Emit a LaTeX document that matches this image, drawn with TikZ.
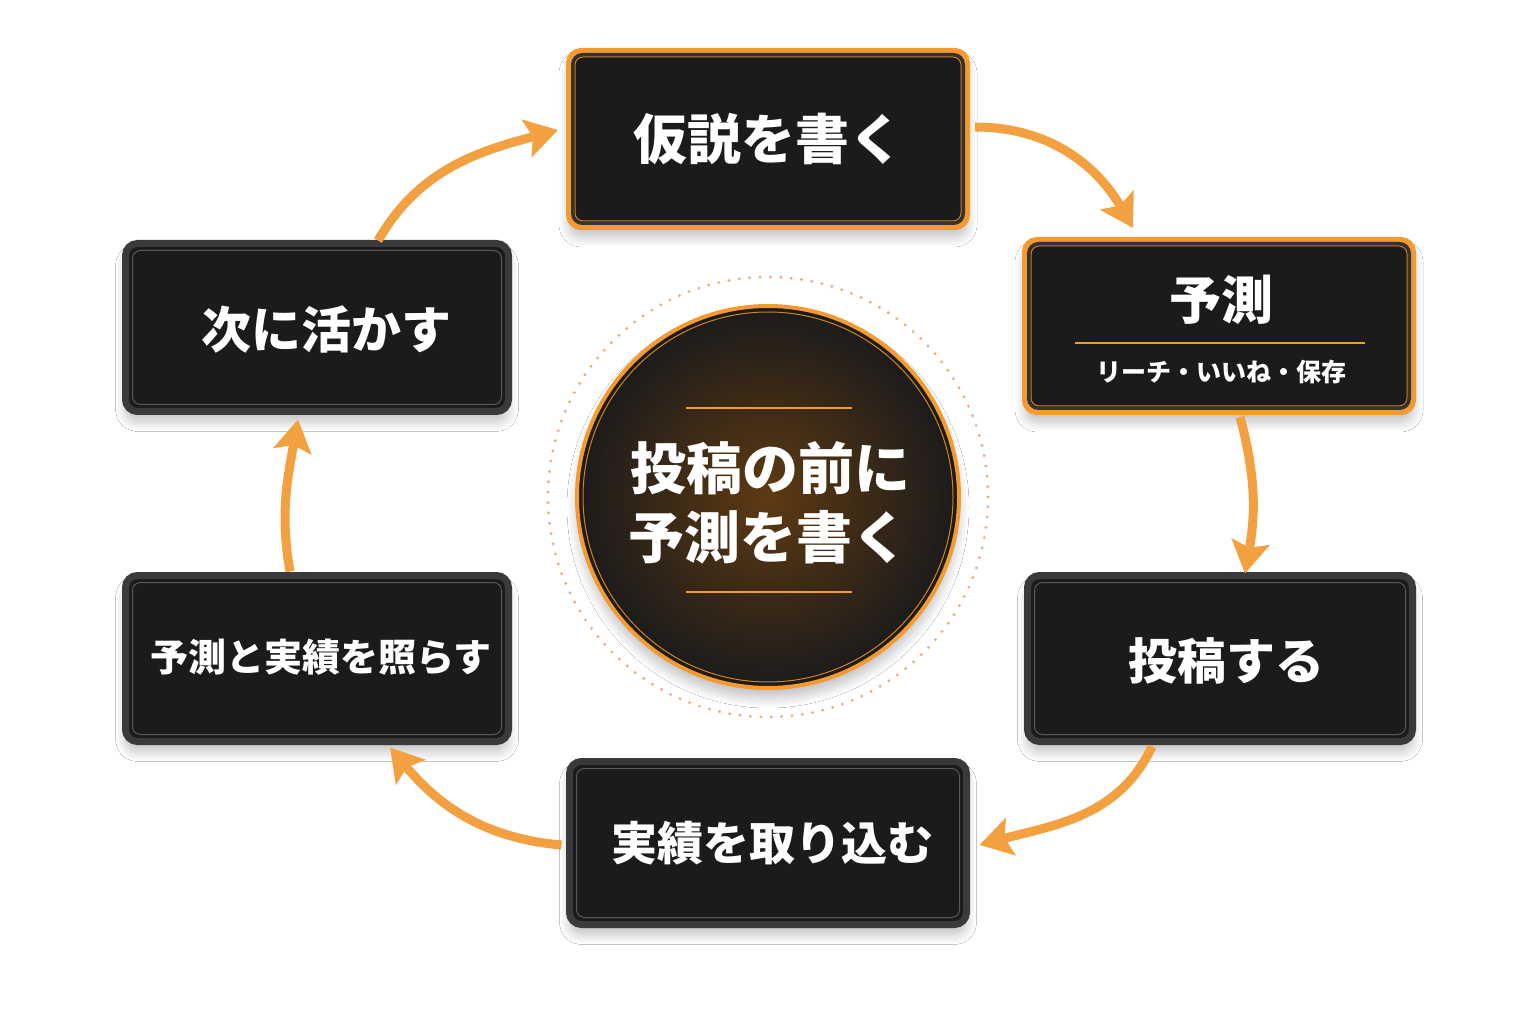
\documentclass[tikz,border=0pt]{standalone}
\usepackage{fontspec}
\setmainfont{Noto Sans CJK JP}
\usetikzlibrary{arrows.meta,shadows.blur,calc}
\definecolor{orng}{HTML}{F39A30}
\definecolor{boxfill}{HTML}{1B1B1B}
\definecolor{boxrim}{HTML}{3A3A3C}
\definecolor{arrowc}{HTML}{F2A040}
\definecolor{dotc}{HTML}{E3B084}
\definecolor{glowc}{HTML}{5E3A12}
\begin{document}
\begin{tikzpicture}[x=0.5pt,y=0.5pt,
  softshadow/.style={blur shadow={shadow xshift=0pt, shadow yshift=-5pt, shadow blur radius=5pt, shadow blur steps=16, shadow opacity=25}},
  graybox/.style={draw=boxrim, line width=3.5pt, fill=boxfill, rounded corners=6pt,
    inner sep=0pt, outer sep=0pt, text=white, font=\bfseries, softshadow},
  orangebox/.style={graybox, draw=orng, line width=3pt},
  innerline/.style={draw=#1, line width=0.5pt, rounded corners=4pt},
  flowarrow/.style={draw=arrowc, line width=4.5pt, -{Stealth[length=16pt,width=19pt,inset=3pt]}},
  lbl/.style={text=white, font=\bfseries, inner sep=0pt},
]
\useasboundingbox (0,0) rectangle (1536,1024);
\fill[white] (0,0) rectangle (1536,1024);

% boxes
\node[orangebox, minimum width=199pt, minimum height=88pt] (b1) at (768,885) {};
\node[orangebox, minimum width=194pt, minimum height=86pt] (b2) at (1219,698) {};
\node[graybox, minimum width=192.5pt, minimum height=83pt] (b3) at (1220,365.5) {};
\node[graybox, minimum width=198.5pt, minimum height=81.5pt] (b4) at (768,181) {};
\node[graybox, minimum width=191.5pt, minimum height=83pt] (b5) at (317,365.5) {};
\node[graybox, minimum width=191.5pt, minimum height=84pt] (b6) at (317,696.5) {};

\foreach \b in {b1,b2}{
  \draw[draw=black!80, line width=1.5pt, rounded corners=5pt] ([shift={(3.5,3.5)}]\b.south west) rectangle ([shift={(-3.5,-3.5)}]\b.north east);
  \draw[innerline=orng!85!black] ([shift={(6,6)}]\b.south west) rectangle ([shift={(-6,-6)}]\b.north east);
}
\foreach \b in {b3,b4,b5,b6}{
  \draw[innerline=gray!70!black] ([shift={(7,7)}]\b.south west) rectangle ([shift={(-7,-7)}]\b.north east);
}

% labels
\node[lbl, font=\bfseries\fontsize{27}{32}\selectfont] (l1) at (b1.center) {仮説を書く};
\node[lbl, font=\bfseries\fontsize{26}{30}\selectfont] (l2) at ([shift={(2,26)}]b2.center) {予測};
\draw[orng, line width=1pt] ([shift={(-144,-17)}]b2.center) -- ([shift={(146,-17)}]b2.center);
\node[lbl, font=\bfseries\fontsize{12.5}{15}\selectfont] (l2s) at ([shift={(2,-46)}]b2.center) {リーチ・いいね・保存};
\node[lbl, font=\bfseries\fontsize{24.5}{30}\selectfont] (l3) at ([shift={(6,-2)}]b3.center) {投稿する};
\node[lbl, font=\bfseries\fontsize{23}{28}\selectfont] (l4) at ([shift={(4,0)}]b4.center) {実績を取り込む};
\node[lbl, font=\bfseries\fontsize{19}{24}\selectfont] (l5) at ([shift={(4,1)}]b5.center) {予測と実績を照らす};
\node[lbl, font=\bfseries\fontsize{25}{30}\selectfont] (l6) at ([shift={(9,-2)}]b6.center) {次に活かす};

% center
\node[circle, draw=none, minimum size=220pt] (cd) at (768,527) {};
\draw[dotc, line width=1.6pt, line cap=round, dash pattern=on 0pt off 5.2pt] (cd.center) circle[radius=110pt];
\node[circle, draw=orng, line width=2pt, minimum size=191pt, inner sep=0pt,
  inner color=glowc, outer color=boxfill, softshadow] (c) at (768,527) {};
\draw[orng!85!black, line width=0.5pt] (c.center) circle[radius=92.5pt];
\draw[orng, line width=1pt] ([shift={(-82,89)}]c.center) -- ([shift={(84,89)}]c.center);
\draw[orng, line width=1pt] ([shift={(-82,-95)}]c.center) -- ([shift={(84,-95)}]c.center);
\node[lbl, font=\bfseries\fontsize{28}{34}\selectfont] (t1) at ([shift={(2,29)}]c.center) {投稿の前に};
\node[lbl, font=\bfseries\fontsize{28}{34}\selectfont] (t2) at ([shift={(0,-40)}]c.center) {予測を書く};

% arrows
\draw[flowarrow] ([shift={(61,3)}]b6.north) to[out=60,in=195] ([shift={(-11,9)}]b1.west);
\draw[flowarrow] ([shift={(8,12)}]b1.east) to[out=0,in=120] ([shift={(-86,12)}]b2.north);
\draw[flowarrow] ([shift={(21,-5)}]b2.south) to[out=-75,in=80] ([shift={(25,2)}]b3.north);
\draw[flowarrow] ([shift={(-68,-5)}]b3.south) to[out=-115,in=15] ([shift={(13,-2)}]b4.east);
\draw[flowarrow] ([shift={(-8,-2)}]b4.west) to[out=175,in=-50] ([shift={(73,-6)}]b5.south);
\draw[flowarrow] ([shift={(-27,4)}]b5.north) to[out=100,in=-100] ([shift={(-19,-8)}]b6.south);
\end{tikzpicture}
\end{document}
